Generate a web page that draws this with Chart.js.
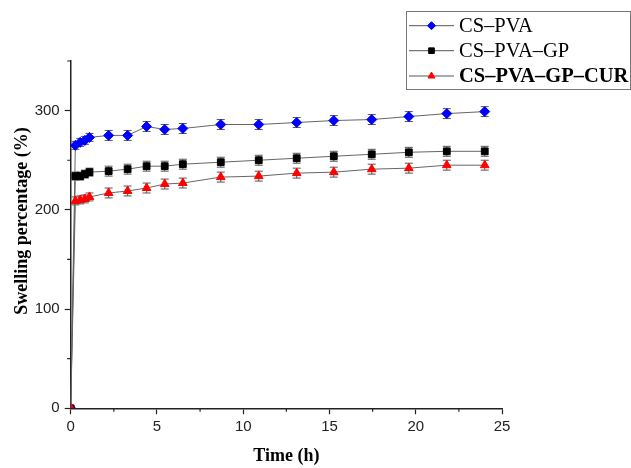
<!DOCTYPE html>
<html>
<head>
<meta charset="utf-8">
<script src="https://cdn.jsdelivr.net/npm/chart.js@4/dist/chart.umd.min.js"></script>
<style>
  body { margin: 0; background: #fff; }
  #wrap { width: 631px; height: 468px; position: relative; }
</style>
</head>
<body>
<div id="wrap"><canvas id="swellChart"></canvas></div>
<script>
// time positions as they sit on the drawn x axis (h)
const times = [0, 0.27, 0.55, 0.82, 1.09, 2.2, 3.3, 4.4, 5.45, 6.5, 8.7, 10.9, 13.1, 15.25, 17.45, 19.6, 21.8, 24];

// swelling percentage (%)
const csPva = [0, 265, 268, 270, 273, 275, 275, 284, 281, 282, 286, 286, 288, 290, 291, 294, 297, 299];
const csPvaGp = [0, 234, 234, 236, 238, 239, 241, 244, 244, 246, 248, 250, 252, 254, 256, 258, 259, 259];
const csPvaGpCur = [0, 209, 210, 211, 213, 217, 219, 222, 226, 227, 233, 234, 237, 238, 241, 242, 245, 245];

// error bar half heights
const csPvaErr = [0, 4, 4, 4, 4, 5, 5, 5, 5, 5, 5, 5, 5, 5, 5, 5, 5, 5];
const csPvaGpErr = [0, 4, 4, 4, 4, 5, 5, 5, 5, 5, 5, 5, 5, 5, 5, 5, 5, 5];
const csPvaGpCurErr = [0, 4, 4, 4, 4, 5, 5, 5, 5, 5, 5, 5, 5, 5, 5, 5, 5, 5];

const seriesNames = ['CS\u2013PVA', 'CS\u2013PVA\u2013GP', 'CS\u2013PVA\u2013GP\u2013CUR'];

// axis ticks
const xTicks = [0, 5, 10, 15, 20, 25];
const xMinorTicks = [2.5, 7.5, 12.5, 17.5, 22.5];
const yTicks = [0, 100, 200, 300];
const yMinorTicks = [50, 150, 250, 350];

const serif = '"Liberation Serif", "Times New Roman", serif';
const sans = '"Liberation Sans", Arial, sans-serif';

function toPoints(vals) {
  return vals.map((v, i) => ({ x: times[i], y: v }));
}

const errors = [csPvaErr, csPvaGpErr, csPvaGpCurErr];

// error bars, drawn under the markers
const errorBars = {
  id: 'errorBars',
  beforeDatasetsDraw(chart) {
    const ctx = chart.ctx;
    const xs = chart.scales.x, ys = chart.scales.y;
    ctx.save();
    ctx.strokeStyle = '#555';
    ctx.lineWidth = 1;
    chart.data.datasets.forEach((ds, d) => {
      ds.data.forEach((p, i) => {
        const e = errors[d][i];
        if (!e) return;
        const px = xs.getPixelForValue(p.x);
        const top = ys.getPixelForValue(p.y + e);
        const bot = ys.getPixelForValue(p.y - e);
        ctx.beginPath();
        ctx.moveTo(px, top); ctx.lineTo(px, bot);
        ctx.moveTo(px - 4, top); ctx.lineTo(px + 4, top);
        ctx.moveTo(px - 4, bot); ctx.lineTo(px + 4, bot);
        ctx.stroke();
      });
    });
    ctx.restore();
  }
};

// minor ticks, axis titles and the boxed legend
const decorations = {
  id: 'decorations',
  afterDraw(chart) {
    const ctx = chart.ctx;
    const xs = chart.scales.x, ys = chart.scales.y;
    const area = chart.chartArea;
    ctx.save();
    ctx.strokeStyle = '#222';
    ctx.lineWidth = 1.2;
    ctx.beginPath();
    xMinorTicks.forEach(v => {
      const px = xs.getPixelForValue(v);
      ctx.moveTo(px, area.bottom); ctx.lineTo(px, area.bottom + 3.5);
    });
    yMinorTicks.forEach(v => {
      const py = ys.getPixelForValue(v);
      ctx.moveTo(area.left, py); ctx.lineTo(area.left - 3.5, py);
    });
    ctx.stroke();

    // axis titles
    ctx.fillStyle = '#000';
    ctx.font = 'bold 18px ' + serif;
    ctx.textAlign = 'center';
    ctx.textBaseline = 'middle';
    ctx.fillText('Time (h)', (area.left + area.right) / 2, 456);
    ctx.save();
    ctx.translate(22, 221);
    ctx.rotate(-Math.PI / 2);
    ctx.fillText('Swelling percentage (%)', 0, 0);
    ctx.restore();

    // legend box
    ctx.strokeStyle = '#777';
    ctx.lineWidth = 1;
    ctx.strokeRect(406.5, 11.5, 224, 78);
    const rows = [25.7, 50.7, 76];
    chart.data.datasets.forEach((ds, d) => {
      const y = rows[d];
      ctx.strokeStyle = '#555';
      ctx.beginPath();
      ctx.moveTo(409, y); ctx.lineTo(454, y);
      ctx.stroke();
      ctx.fillStyle = ds.pointBackgroundColor;
      ctx.strokeStyle = ds.pointBorderColor;
      Chart.helpers.drawPoint(ctx, {
        pointStyle: ds.pointStyle, radius: 4, rotation: 0, borderWidth: 1
      }, 431.5, y);
      ctx.fillStyle = '#000';
      ctx.textAlign = 'left';
      ctx.font = (d === 2 ? 'bold ' : '') + '20.5px ' + serif;
      ctx.fillText(seriesNames[d], 459, y + 1);
    });
    ctx.restore();
  }
};

function makeSet(label, vals, color, style, radius, order) {
  return {
    label: label,
    data: toPoints(vals),
    order: order,
    borderColor: '#666',
    borderWidth: 1,
    backgroundColor: color,
    pointBackgroundColor: color,
    pointBorderColor: color,
    pointBorderWidth: 1,
    pointStyle: style,
    pointRadius: radius,
    pointHoverRadius: radius,
    tension: 0,
  };
}

const ctx = document.getElementById('swellChart').getContext('2d');
const swellChart = new Chart(ctx, {
  type: 'line',
  data: {
    datasets: [
      makeSet(seriesNames[0], csPva, '#0000ff', 'rectRot', 5, 3),
      makeSet(seriesNames[1], csPvaGp, '#000000', 'rect', 4.8, 2),
      makeSet(seriesNames[2], csPvaGpCur, '#ff0000', 'triangle', 5, 1),
    ],
  },
  options: {
    responsive: true,
    maintainAspectRatio: false,
    animation: false,
    layout: { padding: { left: 0, top: 61, right: 129, bottom: 0 } },
    plugins: { legend: { display: false }, tooltip: { enabled: false } },
    scales: {
      x: {
        type: 'linear',
        min: 0,
        max: 25,
        afterBuildTicks: (s) => { s.ticks = xTicks.map(v => ({ value: v })); },
        afterFit: (s) => { s.height = 59.7; },
        border: { display: true, color: '#222', width: 1.5 },
        grid: { drawOnChartArea: false, drawTicks: true, tickLength: 6, color: '#222', tickWidth: 1.2 },
        ticks: { color: '#222', font: { family: sans, size: 15 }, padding: 4, maxRotation: 0 },
      },
      y: {
        type: 'linear',
        min: 0,
        max: 350,
        afterBuildTicks: (s) => { s.ticks = yTicks.map(v => ({ value: v })); },
        afterFit: (s) => { s.width = 70.7; },
        border: { display: true, color: '#222', width: 1.5 },
        grid: { drawOnChartArea: false, drawTicks: true, tickLength: 6, color: '#222', tickWidth: 1.2 },
        ticks: { color: '#222', font: { family: sans, size: 15 }, padding: 5 },
      },
    },
  },
  plugins: [errorBars, decorations],
});
</script>
</body>
</html>
